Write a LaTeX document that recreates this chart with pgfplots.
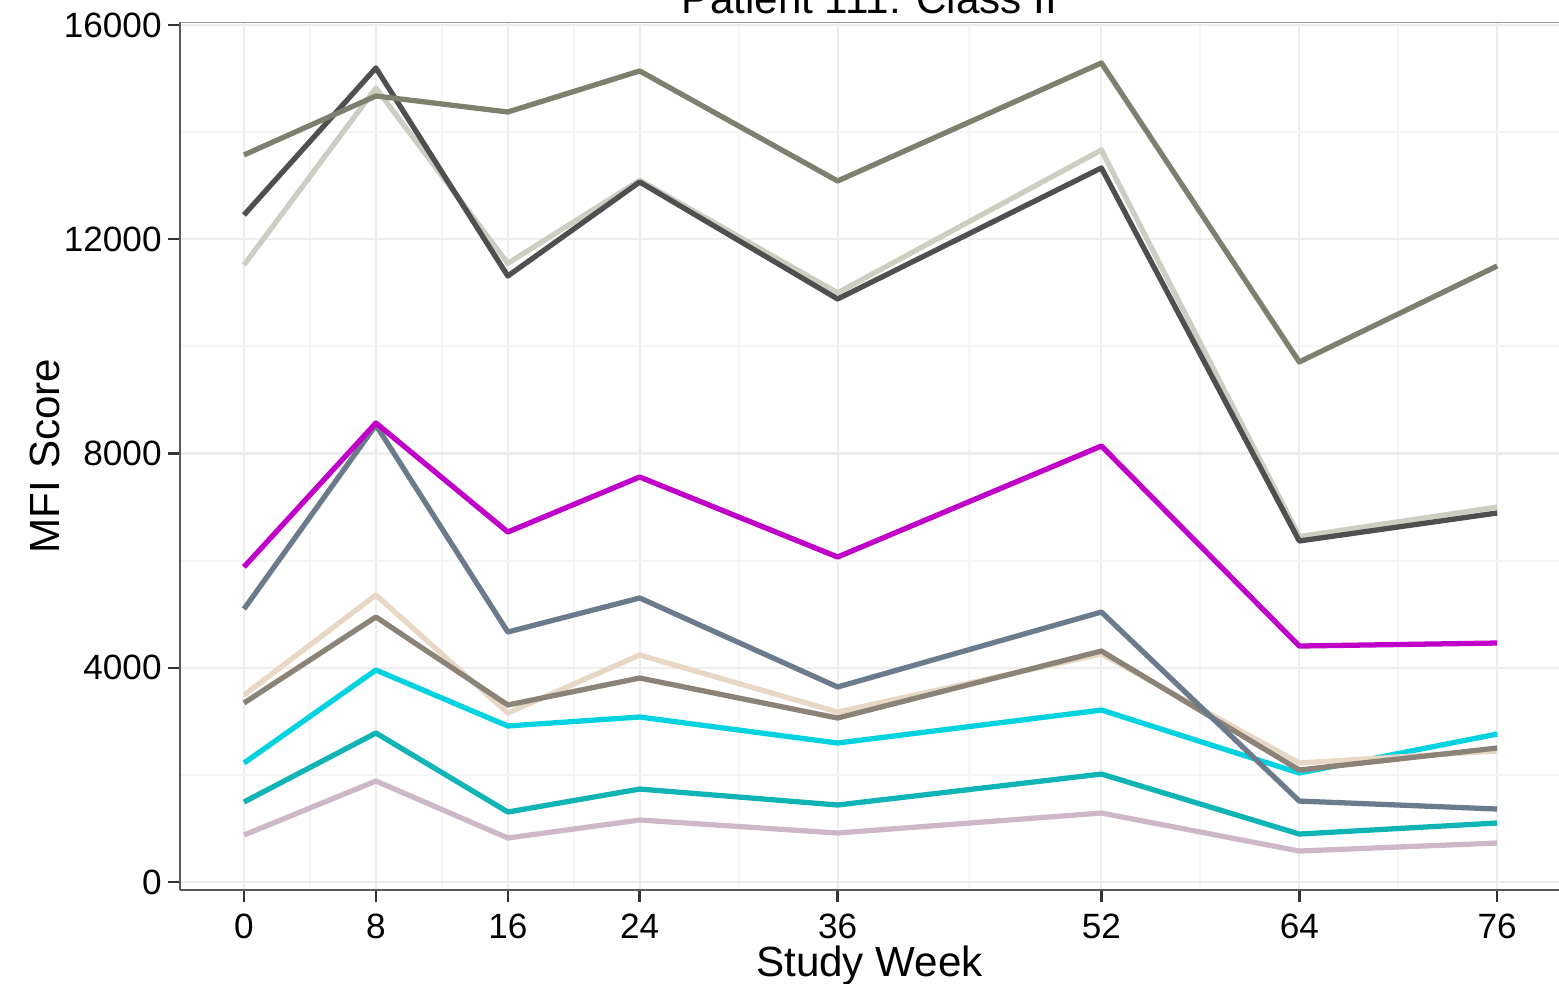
\documentclass[border=0pt]{standalone}
\usepackage{pgfplots}
\pgfplotsset{compat=1.18}
\usepackage{fontspec}
\setmainfont{Liberation Sans}
\definecolor{cOlive}{HTML}{7F7F70}
\definecolor{cDark}{HTML}{4F4F4F}
\definecolor{cLight}{HTML}{CDCDC1}
\definecolor{cMag}{HTML}{C000C8}
\definecolor{cSlate}{HTML}{6C7B8B}
\definecolor{cBeige}{HTML}{E6D8C4}
\definecolor{cTaupe}{HTML}{8B8378}
\definecolor{cCyan}{HTML}{00D2E0}
\definecolor{cTeal}{HTML}{10B4B4}
\definecolor{cPink}{HTML}{CDB8C8}
\begin{document}
\begin{tikzpicture}
\begin{axis}[
  scale only axis, width=137.9mm, height=86.8mm,
  xmin=-3.88, xmax=79.75, ymin=-149, ymax=16056,
  axis x line*=bottom, axis y line*=left,
  axis line style={draw=black!65, line width=0.8pt, -},
  xtick={0,8,16,24,36,52,64,76}, ytick={0,4000,8000,12000,16000},
  minor xtick={4,12,20,30,44,58,70}, minor ytick={2000,6000,10000,14000},
  grid=both,
  major grid style={draw=black!7, line width=0.6pt},
  minor grid style={draw=black!3.5, line width=0.6pt},
  tick align=outside, major tick length=1.2mm, minor tick length=0pt,
  tick style={draw=black!80, line width=0.7pt},
  scaled y ticks=false,
  y tick label style={xshift=0.6mm, /pgf/number format/.cd, fixed, 1000 sep={}},
  /pgf/number format/assume math mode=true,
  tick label style={font=\fontsize{10}{12}\selectfont},
  xlabel={Study Week}, ylabel={MFI Score},
  label style={font=\fontsize{12}{14}\selectfont},
  x label style={at={(axis description cs:0.5,-0.0875)}, anchor=center},
  y label style={at={(axis description cs:-0.0979,0.5)}, anchor=center},
  every axis plot/.append style={line width=1.5pt, mark=none, line join=round},
]
\coordinate (ll) at (rel axis cs:0,0);
\coordinate (ur) at (rel axis cs:1,1);
\coordinate (tt) at (rel axis cs:0.5,1);
\draw[black!40, line width=0.8pt] (rel axis cs:0,1) -- (rel axis cs:1,1);

\addplot[cPink] coordinates {(0,877) (8,1886) (16,822) (24,1158) (36,915) (52,1288) (64,579) (76,728)};
\addplot[cTeal] coordinates {(0,1494) (8,2782) (16,1307) (24,1736) (36,1438) (52,2016) (64,896) (76,1102)};
\addplot[cCyan] coordinates {(0,2222) (8,3958) (16,2913) (24,3081) (36,2595) (52,3211) (64,2035) (76,2763)};
\addplot[cBeige] coordinates {(0,3491) (8,5359) (16,3155) (24,4238) (36,3174) (52,4257) (64,2222) (76,2446)};
\addplot[cTaupe] coordinates {(0,3342) (8,4948) (16,3305) (24,3809) (36,3062) (52,4313) (64,2091) (76,2502)};
\addplot[cSlate] coordinates {(0,5097) (8,8532) (16,4668) (24,5303) (36,3641) (52,5041) (64,1512) (76,1363)};
\addplot[cMag] coordinates {(0,5881) (8,8570) (16,6535) (24,7562) (36,6068) (52,8140) (64,4406) (76,4462)};
\addplot[cLight] coordinates {(0,11520) (8,14824) (16,11550) (24,13100) (36,11000) (52,13667) (64,6450) (76,7000)};
\addplot[cDark] coordinates {(0,12453) (8,15198) (16,11314) (24,13069) (36,10885) (52,13331) (64,6367) (76,6890)};
\addplot[cOlive] coordinates {(0,13574) (8,14675) (16,14376) (24,15142) (36,13088) (52,15291) (64,9709) (76,11501)};
\end{axis}
\node[anchor=base, yshift=0.9mm, font=\fontsize{12}{14}\selectfont] at (tt) {Patient 111: Class II};
\pgfresetboundingbox
\path[use as bounding box] ([xshift=-18mm,yshift=-9.3mm]ll) rectangle ([yshift=2.2mm]ur);
\end{tikzpicture}
\end{document}
